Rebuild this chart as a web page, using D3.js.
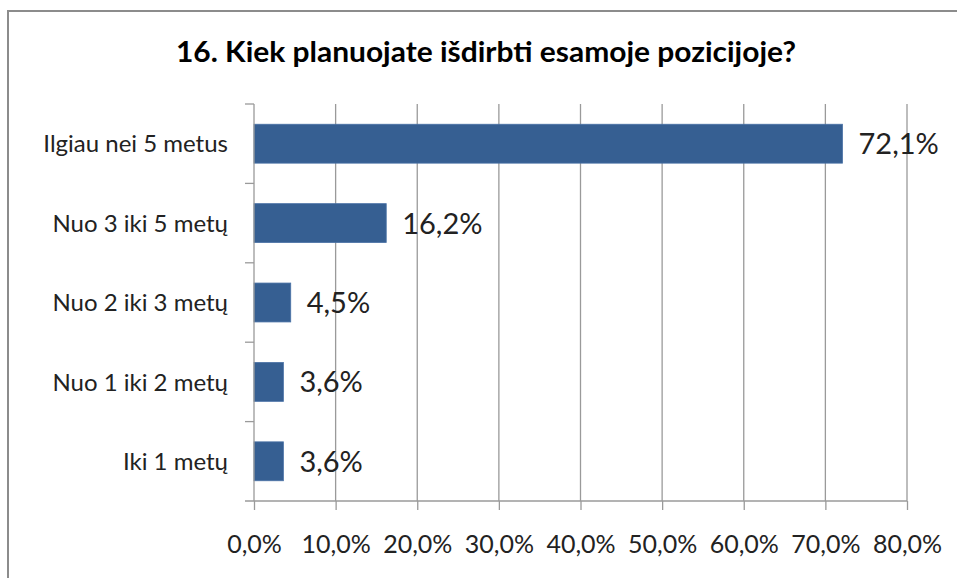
<!DOCTYPE html>
<html>
<head>
<meta charset="utf-8">
<script src="https://cdn.jsdelivr.net/npm/d3@7"></script>
<style>
  body { margin: 0; background: #fff; }
  svg { display: block; }
</style>
</head>
<body>
<div id="chart"></div>
<script>
// data
const categories = ['Ilgiau nei 5 metus', 'Nuo 3 iki 5 metų', 'Nuo 2 iki 3 metų', 'Nuo 1 iki 2 metų', 'Iki 1 metų'];
const values = [72.1, 16.2, 4.5, 3.6, 3.6];
const valueLabels = ['72,1%', '16,2%', '4,5%', '3,6%', '3,6%'];
const xTicks = [0, 10, 20, 30, 40, 50, 60, 70, 80];
const title = '16. Kiek planuojate išdirbti esamoje pozicijoje?';

const data = categories.map((c, i) => ({ cat: c, value: values[i], label: valueLabels[i] }));

function createChart() {
    const width = 957;
    const height = 578;
    const margin = { left: 254, right: 50, top: 104, bottom: 77 };

    const svg = d3.select('#chart')
      .append('svg')
      .attr('width', width)
      .attr('height', height);

    // outer chart border (only top/left visible in the crop)
    svg.append('rect')
      .attr('x', 8).attr('y', 11)
      .attr('width', 1000).attr('height', 700)
      .attr('fill', 'none')
      .attr('stroke', '#8c8c8c')
      .attr('stroke-width', 2);

    svg.append('text')
      .attr('x', 486).attr('y', 62)
      .attr('text-anchor', 'middle')
      .attr('textLength', 620)
      .attr('lengthAdjust', 'spacingAndGlyphs')
      .style('font-family', 'Lato, sans-serif')
      .style('font-weight', 'bold')
      .style('font-size', '28px')
      .attr('fill', '#000')
      .text(title);

    const xScale = d3.scaleLinear()
      .domain([0, 80])
      .range([margin.left, width - margin.right]);

    const yScale = d3.scaleBand()
      .domain(categories)
      .range([margin.top, height - margin.bottom])
      .paddingInner(0.51)
      .paddingOuter(0.255);

    const yBand = d3.scaleBand()
      .domain(categories)
      .range([margin.top, height - margin.bottom]);

    // gridlines
    svg.append('g')
      .selectAll('line')
      .data(xTicks.slice(1))
      .join('line')
      .attr('x1', d => xScale(d)).attr('x2', d => xScale(d))
      .attr('y1', margin.top).attr('y2', height - margin.bottom)
      .attr('stroke', '#9a9a9a')
      .attr('stroke-width', 1.3);

    // bars
    svg.append('g')
      .selectAll('rect')
      .data(data)
      .join('rect')
      .attr('x', xScale(0))
      .attr('y', d => yScale(d.cat))
      .attr('width', d => xScale(d.value) - xScale(0))
      .attr('height', yScale.bandwidth())
      .attr('fill', '#365f92')
      .attr('stroke', '#4a72a6')
      .attr('stroke-width', 0.8);

    // value labels
    svg.append('g')
      .selectAll('text')
      .data(data)
      .join('text')
      .attr('x', d => xScale(d.value) + 16)
      .attr('y', d => yScale(d.cat) + yScale.bandwidth() / 2)
      .attr('dy', '0.36em')
      .style('font-family', 'Lato, sans-serif')
      .style('font-size', '29px')
      .attr('fill', '#222')
      .text(d => d.label);

    // x axis
    const xAxis = d3.axisBottom(xScale)
      .tickValues(xTicks)
      .tickSize(9)
      .tickPadding(25)
      .tickFormat(d => d.toFixed(1).replace('.', ',') + '%');

    const gx = svg.append('g')
      .attr('transform', `translate(0,${height - margin.bottom})`)
      .call(xAxis);
    gx.select('.domain').remove();
    gx.append('line')
      .attr('x1', margin.left - 9).attr('x2', width - margin.right)
      .attr('stroke', '#9a9a9a').attr('stroke-width', 1.3);
    gx.selectAll('.tick line').attr('stroke', '#9a9a9a').attr('stroke-width', 1.3);
    gx.selectAll('.tick text')
      .style('font-family', 'Lato, sans-serif')
      .style('font-size', '25px')
      .attr('fill', '#222');

    // y axis: ticks sit at band boundaries
    const gy = svg.append('g');
    gy.append('line')
      .attr('x1', margin.left).attr('x2', margin.left)
      .attr('y1', margin.top).attr('y2', height - margin.bottom)
      .attr('stroke', '#9a9a9a').attr('stroke-width', 1.3);
    gy.selectAll('.ytick')
      .data(categories)
      .join('line')
      .attr('class', 'ytick')
      .attr('x1', margin.left - 9).attr('x2', margin.left)
      .attr('y1', d => yBand(d)).attr('y2', d => yBand(d))
      .attr('stroke', '#9a9a9a').attr('stroke-width', 1.3);
    gy.selectAll('text')
      .data(categories)
      .join('text')
      .attr('x', 228)
      .attr('y', d => yBand(d) + yBand.bandwidth() / 2)
      .attr('dy', '0.36em')
      .attr('text-anchor', 'end')
      .style('font-family', 'Lato, sans-serif')
      .style('font-size', '24px')
      .attr('fill', '#222')
      .text(d => d);
}

createChart();
</script>
</body>
</html>
